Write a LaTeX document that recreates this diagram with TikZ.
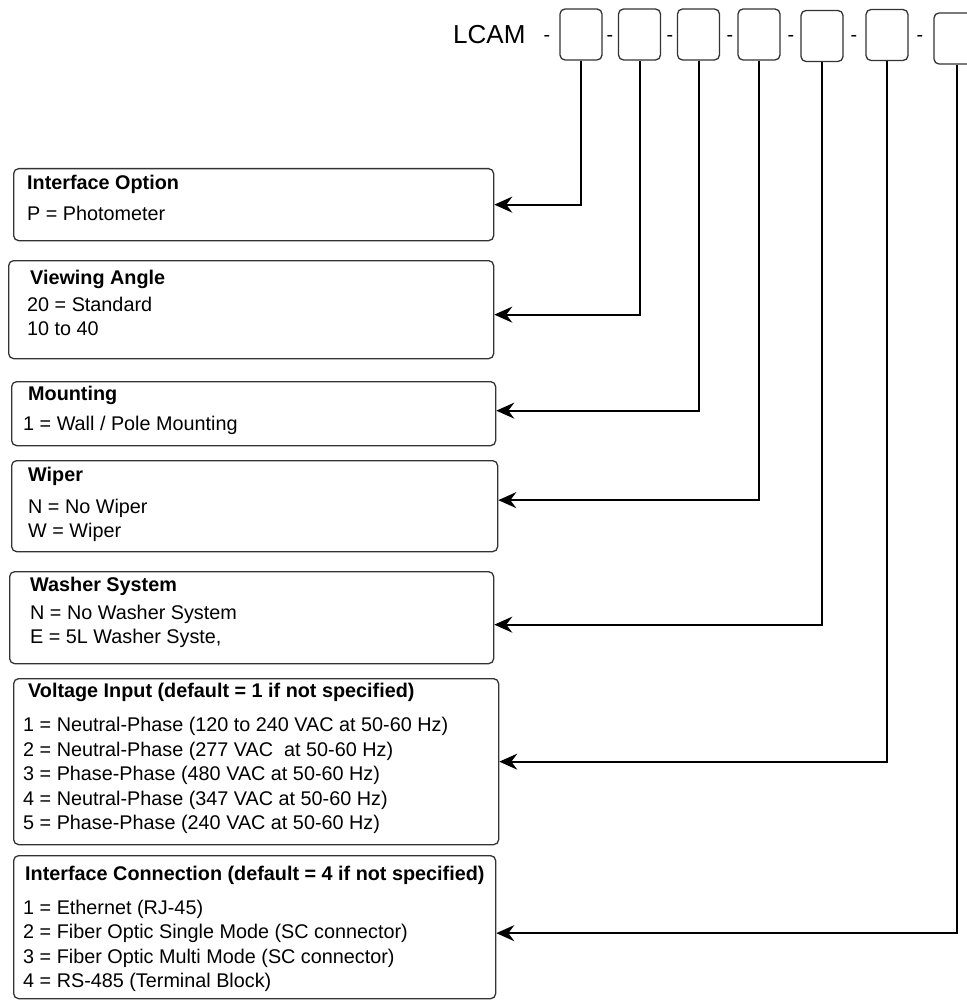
\documentclass[tikz,border=0pt]{standalone}
\usepackage{fontspec}
\setmainfont{Liberation Sans}
\usetikzlibrary{arrows.meta,positioning}

\tikzset{
  optbox/.style={draw=black!80, line width=1.3pt, rounded corners=5pt, anchor=north west, inner sep=0pt},
  codebox/.style={draw=black!80, line width=1.3pt, rounded corners=5pt, minimum width=42pt, minimum height=51pt, inner sep=0pt},
  txt/.style={anchor=west, inner sep=0pt, align=left, font=\fontsize{19.8}{24.4}\selectfont},
  conn/.style={line width=2pt, -{Stealth[length=18pt,width=16pt,inset=6pt]}},
}

\begin{document}
\begin{tikzpicture}[x=1pt,y=-1pt]
\useasboundingbox (0,0) rectangle (966,1000);

\node[anchor=west, inner sep=0pt, font=\fontsize{26}{30}\selectfont] (lcam) at (453,35) {LCAM};

\node[txt, anchor=center] (d1) at (547,38) {-};
\node[codebox] (t1) at (581,34.5) {};
\node[txt, anchor=center] (d2) at (610,38) {-};
\node[codebox] (t2) at (639.5,34.5) {};
\node[txt, anchor=center] (d3) at (670,38) {-};
\node[codebox] (t3) at (698.5,34.5) {};
\node[txt, anchor=center] (d4) at (730,38) {-};
\node[codebox] (t4) at (759,34.5) {};
\node[txt, anchor=center] (d5) at (791,38) {-};
\node[codebox] (t5) at (822,36) {};
\node[txt, anchor=center] (d6) at (854,38) {-};
\node[codebox] (t6) at (887,35) {};
\node[txt, anchor=center] (d7) at (920,38) {-};
\node[codebox, minimum width=46pt] (t7) at (957,38.5) {};

\node[optbox, minimum width=480pt, minimum height=72pt] (o1) at (13,168) {};
\node[txt] (o1title) at (27,184) {\textbf{Interface Option}};
\node[txt] (o1text) at (27,213) {P = Photometer};

\node[optbox, minimum width=485pt, minimum height=98pt] (o2) at (8,260) {};
\node[txt] (o2title) at (30,279) {\textbf{Viewing Angle}};
\node[txt] (o2text) at (27,316.5) {20 = Standard\\10 to 40};

\node[optbox, minimum width=484pt, minimum height=64pt] (o3) at (11,381) {};
\node[txt] (o3title) at (28,395) {\textbf{Mounting}};
\node[txt] (o3text) at (23,425) {1 = Wall / Pole Mounting};

\node[optbox, minimum width=486pt, minimum height=91pt] (o4) at (11,460) {};
\node[txt] (o4title) at (28,476) {\textbf{Wiper}};
\node[txt] (o4text) at (28,520.5) {N = No Wiper\\W = Wiper};

\node[optbox, minimum width=484pt, minimum height=92pt] (o5) at (9,571) {};
\node[txt] (o5title) at (30,586) {\textbf{Washer System}};
\node[txt] (o5text) at (30,626.5) {N = No Washer System\\E = 5L Washer Syste,};

\node[optbox, minimum width=485pt, minimum height=166pt] (o6) at (13,678) {};
\node[txt] (o6title) at (28,692) {\textbf{Voltage Input (default = 1 if not specified)}};
\node[txt] (o6text) at (23,775.5) {1 = Neutral-Phase (120 to 240 VAC at 50-60 Hz)\\2 = Neutral-Phase (277 VAC\ \ at 50-60 Hz)\\3 = Phase-Phase (480 VAC at 50-60 Hz)\\4 = Neutral-Phase (347 VAC at 50-60 Hz)\\5 = Phase-Phase (240 VAC at 50-60 Hz)};

\node[optbox, minimum width=482pt, minimum height=143pt] (o7) at (13,855) {};
\node[txt] (o7title) at (25,875) {\textbf{Interface Connection (default = 4 if not specified)}};
\node[txt] (o7text) at (23,946) {1 = Ethernet (RJ-45)\\2 = Fiber Optic Single Mode (SC connector)\\3 = Fiber Optic Multi Mode (SC connector)\\4 = RS-485 (Terminal Block)};

\draw[conn] (t1.south) |- (o1.east);
\draw[conn] (t2.south) |- ([yshift=-5pt]o2.east);
\draw[conn] (t3.south) |- ([yshift=3pt]o3.east);
\draw[conn] (t4.south) |- ([yshift=6pt]o4.east);
\draw[conn] (t5.south) |- ([yshift=-7pt]o5.east);
\draw[conn] (t6.south) |- (o6.east);
\draw[conn] (t7.south) |- ([yshift=-6pt]o7.east);
\end{tikzpicture}
\end{document}
